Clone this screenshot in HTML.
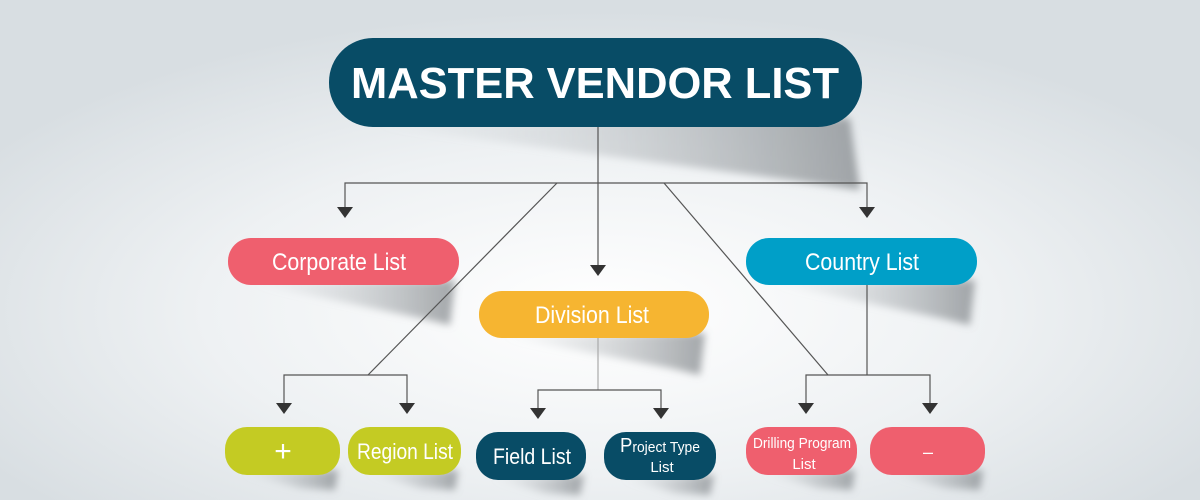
<!DOCTYPE html>
<html><head><meta charset="utf-8"><style>
html,body{margin:0;padding:0;width:1200px;height:500px;overflow:hidden}
</style></head><body>
<svg width="1200" height="500" viewBox="0 0 1200 500" xmlns="http://www.w3.org/2000/svg" font-family="'Liberation Sans Narrow','Liberation Sans',sans-serif">
<defs>
<radialGradient id="bg" cx="0.5" cy="0.62" r="0.6">
<stop offset="0" stop-color="#ffffff"/><stop offset="0.55" stop-color="#eef1f3"/><stop offset="1" stop-color="#d8dee2"/>
</radialGradient>
<linearGradient id="sh" x1="0" y1="0" x2="1" y2="0">
<stop offset="0" stop-color="#bfc4c8" stop-opacity="0"/><stop offset="1" stop-color="#7d8286" stop-opacity="0.7"/>
</linearGradient>
<filter id="bl"><feGaussianBlur stdDeviation="4"/></filter>
</defs>
<rect width="1200" height="500" fill="url(#bg)"/>
<!-- shadows -->
<g filter="url(#bl)" fill="url(#sh)">
<polygon points="370,125 850,118 860,190 790,180"/>
<polygon points="250,283 455,280 450,325 420,318"/>
<polygon points="500,336 705,333 700,375 670,368"/>
<polygon points="770,283 975,280 970,325 940,318"/>
<polygon points="240,473 338,470 335,490 300,488"/>
<polygon points="365,473 458,470 455,490 420,488"/>
<polygon points="490,478 584,475 580,495 545,493"/>
<polygon points="620,478 714,475 710,495 675,493"/>
<polygon points="760,473 855,470 852,490 818,488"/>
<polygon points="885,473 983,470 980,490 945,488"/>
</g>
<!-- connectors -->
<g stroke="#555" stroke-width="1.2" fill="none">
<line x1="598" y1="127" x2="598" y2="265"/>
<polyline points="345,207 345,183 867,183 867,207"/>
<line x1="557" y1="183" x2="368" y2="375"/>
<line x1="664" y1="183" x2="828" y2="375"/>
<polyline points="284,403 284,375 407,375 407,403"/>
<line x1="598" y1="338" x2="598" y2="390" stroke="#aaa"/>
<polyline points="538,408 538,390 661,390 661,408"/>
<line x1="867" y1="285" x2="867" y2="375"/>
<polyline points="806,403 806,375 930,375 930,403"/>
</g>
<g fill="#333">
<polygon points="337,207 353,207 345,218"/>
<polygon points="859,207 875,207 867,218"/>
<polygon points="590,265 606,265 598,276"/>
<polygon points="276,403 292,403 284,414"/>
<polygon points="399,403 415,403 407,414"/>
<polygon points="530,408 546,408 538,419"/>
<polygon points="653,408 669,408 661,419"/>
<polygon points="798,403 814,403 806,414"/>
<polygon points="922,403 938,403 930,414"/>
</g>
<!-- nodes -->
<rect x="329" y="38" width="533" height="89" rx="44" fill="#084c66"/>
<text x="595" y="98" text-anchor="middle" fill="#fff" font-family="'Liberation Sans',sans-serif" font-weight="bold" font-size="44" textLength="488" lengthAdjust="spacingAndGlyphs">MASTER VENDOR LIST</text>
<rect x="228" y="238" width="231" height="47" rx="23" fill="#ef5f6e"/>
<text x="339" y="270" text-anchor="middle" fill="#fff" font-size="24" textLength="134" lengthAdjust="spacingAndGlyphs">Corporate List</text>
<rect x="746" y="238" width="231" height="47" rx="23" fill="#009fc8"/>
<text x="862" y="270" text-anchor="middle" fill="#fff" font-size="24" textLength="114" lengthAdjust="spacingAndGlyphs">Country List</text>
<rect x="479" y="291" width="230" height="47" rx="23" fill="#f6b531"/>
<text x="592" y="323" text-anchor="middle" fill="#fff" font-size="24" textLength="114" lengthAdjust="spacingAndGlyphs">Division List</text>
<rect x="225" y="427" width="115" height="48" rx="22" fill="#c4cb23"/>
<text x="283" y="461" text-anchor="middle" fill="#fff" font-size="30" font-weight="normal">+</text>
<rect x="348" y="427" width="113" height="48" rx="22" fill="#c4cb23"/>
<text x="405" y="459" text-anchor="middle" fill="#fff" font-size="22" textLength="96" lengthAdjust="spacingAndGlyphs">Region List</text>
<rect x="476" y="432" width="110" height="48" rx="22" fill="#084c66"/>
<text x="532" y="464" text-anchor="middle" fill="#fff" font-size="22" textLength="78" lengthAdjust="spacingAndGlyphs">Field List</text>
<rect x="604" y="432" width="112" height="48" rx="22" fill="#084c66"/>
<text x="660" y="452" text-anchor="middle" fill="#fff" font-size="15" textLength="80" lengthAdjust="spacingAndGlyphs"><tspan font-size="20">P</tspan>roject Type</text>
<text x="662" y="472" text-anchor="middle" fill="#fff" font-size="15">List</text>
<rect x="746" y="427" width="111" height="48" rx="22" fill="#ef5f6e"/>
<text x="802" y="448" text-anchor="middle" fill="#fff" font-size="15" textLength="98" lengthAdjust="spacingAndGlyphs">Drilling Program</text>
<text x="804" y="469" text-anchor="middle" fill="#fff" font-size="15">List</text>
<rect x="870" y="427" width="115" height="48" rx="22" fill="#ef5f6e"/>
<text x="928" y="458" text-anchor="middle" fill="#fff" font-size="18">–</text>
</svg>
</body></html>
